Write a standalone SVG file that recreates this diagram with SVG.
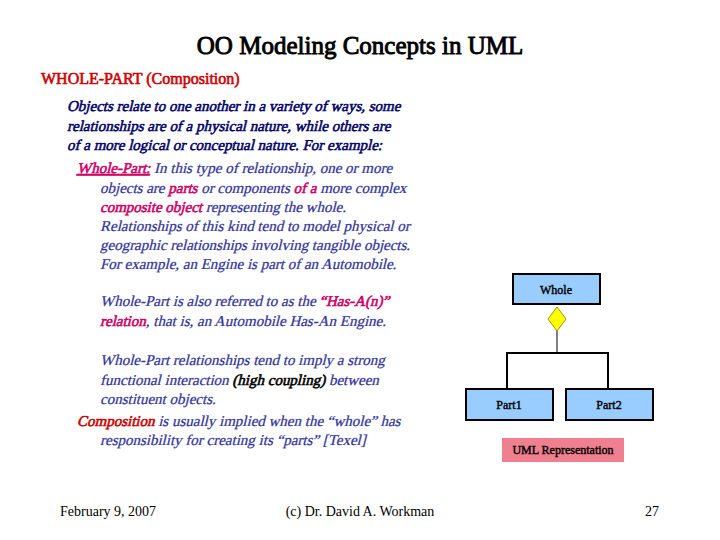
<svg xmlns="http://www.w3.org/2000/svg" width="720" height="540" viewBox="0 0 720 540">
<style>
text{font-family:"Liberation Serif",serif;font-weight:normal;font-style:normal}
.p1{font-size:15px;fill:#000066;stroke:#000066;stroke-width:.55}
.p2{font-size:15px;fill:#333399;stroke:#333399;stroke-width:.25}
.m{fill:#cc0066;stroke:#cc0066;stroke-width:.6}
.r{fill:#cc0000;stroke:#cc0000;stroke-width:.6}
.k{fill:#000;stroke:#000;stroke-width:.6}
.box{fill:#99ccff;stroke:#000;stroke-width:2}
.bl{font-size:12px;fill:#000;stroke:#000;stroke-width:.4;text-anchor:middle}
.ft{font-size:14px;fill:#000}
</style>
<rect width="720" height="540" fill="#fff"/>
<text x="360" y="54" text-anchor="middle" font-size="25" fill="#000" stroke="#000" stroke-width="0.9">OO Modeling Concepts in UML</text>
<text x="41" y="84" font-size="16" class="r">WHOLE-PART (Composition)</text>
<text class="p1" transform="translate(67,111) skewX(-14)">Objects relate to one another in a variety of ways, some</text>
<text class="p1" transform="translate(67,131) skewX(-14)">relationships are of a physical nature, while others are</text>
<text class="p1" transform="translate(67,150) skewX(-14)">of a more logical or conceptual nature.  For example:</text>
<text class="p2" transform="translate(77,173) skewX(-14)"><tspan class="m" text-decoration="underline">Whole-Part:</tspan>  In this type of relationship, one or more</text>
<text class="p2" transform="translate(100,193) skewX(-14)">objects are <tspan class="m">parts</tspan> or components <tspan class="m">of a</tspan> more complex</text>
<text class="p2" transform="translate(100,212) skewX(-14)"><tspan class="m">composite object</tspan> representing the whole.</text>
<text class="p2" transform="translate(100,231) skewX(-14)">Relationships of this kind tend to model physical or</text>
<text class="p2" transform="translate(100,250) skewX(-14)">geographic relationships involving tangible objects.</text>
<text class="p2" transform="translate(100,269) skewX(-14)">For example, an Engine is part of an Automobile.</text>
<text class="p2" transform="translate(100,306) skewX(-14)">Whole-Part is also referred to as the <tspan class="m">“Has-A(n)”</tspan></text>
<text class="p2" transform="translate(100,326) skewX(-14)"><tspan class="m">relation</tspan>, that is, an Automobile Has-An Engine.</text>
<text class="p2" transform="translate(100,365) skewX(-14)">Whole-Part relationships tend to imply a strong</text>
<text class="p2" transform="translate(100,385) skewX(-14)">functional interaction <tspan class="k">(high coupling)</tspan> between</text>
<text class="p2" transform="translate(100,404) skewX(-14)">constituent objects.</text>
<text class="p2" transform="translate(77,426) skewX(-14)"><tspan class="r">Composition</tspan> is usually implied when the “whole” has</text>
<text class="p2" transform="translate(100,445) skewX(-14)">responsibility for creating its “parts” [Texel]</text>
<g id="connectors" fill="none" stroke="#000">
<line x1="557" y1="330" x2="557" y2="353" stroke-width="1"/>
<polyline points="507,388 507,353 608,353 608,388" stroke-width="2"/>
<polygon points="557,307 566,319 557,331 548,319" fill="#ffff00" stroke="#999900" stroke-width="1"/>
</g>
<g id="whole"><rect class="box" x="513" y="274" width="87" height="30"/><text class="bl" x="556" y="294">Whole</text></g>
<g id="part1"><rect class="box" x="466" y="389" width="87" height="31"/><text class="bl" x="509" y="409">Part1</text></g>
<g id="part2"><rect class="box" x="566" y="389" width="87" height="31"/><text class="bl" x="609" y="409">Part2</text></g>
<g id="label"><rect x="502" y="438" width="122" height="24" fill="#f08090"/><text class="bl" x="563" y="454">UML Representation</text></g>
<text class="ft" x="60" y="516">February 9, 2007</text>
<text class="ft" x="360" y="516" text-anchor="middle">(c) Dr. David A. Workman</text>
<text class="ft" x="659" y="516" text-anchor="end">27</text>
</svg>
